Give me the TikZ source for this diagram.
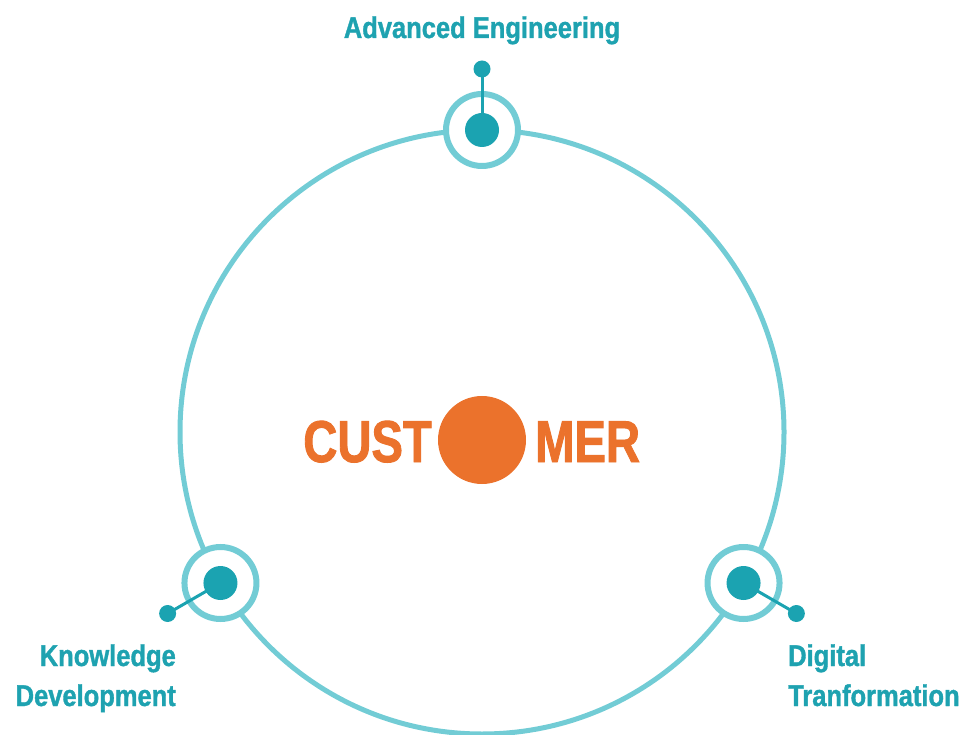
\documentclass[tikz,border=0pt]{standalone}
\usepackage{fontspec}
\usetikzlibrary{calc}
\setmainfont{Liberation Sans}[FakeStretch=0.82]
\newfontfamily\lblfont{Liberation Sans}[FakeStretch=0.85,FakeBold=1.2]
\newfontfamily\custfont{Liberation Sans}[FakeStretch=0.80,FakeBold=1.5]
\definecolor{ringteal}{HTML}{72CCD5}
\definecolor{darkteal}{HTML}{1BA3B1}
\definecolor{labelteal}{HTML}{1EA2B0}
\definecolor{custorange}{HTML}{EB722C}
\begin{document}
\begin{tikzpicture}[x=1pt,y=1pt,
  bigring/.style={draw=ringteal,line width=5pt},
  ring/.style={circle,draw=ringteal,line width=6pt,fill=white,minimum size=72pt,inner sep=0pt},
  hub/.style={circle,fill=darkteal,minimum size=34pt,inner sep=0pt},
  tipdot/.style={circle,fill=darkteal,minimum size=17pt,inner sep=0pt},
  stick/.style={draw=darkteal,line width=3pt},
  label/.style={font=\fontsize{30}{40}\selectfont\lblfont\bfseries,text=labelteal,inner sep=0pt},
  cust/.style={font=\fontsize{59}{59}\selectfont\custfont\bfseries,text=custorange,inner sep=0pt}]
\useasboundingbox (0,0) rectangle (968,734);
\coordinate (O) at (482,302);
\draw[bigring] (O) circle[radius=302];
% three stations on the ring
\foreach \n/\a in {top/90,left/210,right/330}{
  \node[ring] (ring\n) at ($(O)+(\a:302)$) {};
  \coordinate (end\n) at ($(O)+(\a:363)$);
  \node[tipdot] (tip\n) at (end\n) {};
  \draw[stick] (ring\n.center) -- (tip\n.center);
  \node[hub] (hub\n) at (ring\n.center) {};
}
% labels (base anchor sits on the last line)
\node[label,anchor=base] (lblA) at (482,696) {Advanced Engineering};
\node[label,anchor=base east,align=right] (lblK) at (176,28) {Knowledge\\Development};
\node[label,anchor=base west,align=left] (lblD) at (788,28) {Digital\\Tranformation};
% centre word
\node[circle,fill=custorange,minimum size=88pt,inner sep=0pt] (odot) at (482,294) {};
\node[cust,anchor=base east] (cust) at (432,272) {CUST};
\node[cust,anchor=base west] (mer) at (535,272) {MER};
\end{tikzpicture}
\end{document}
